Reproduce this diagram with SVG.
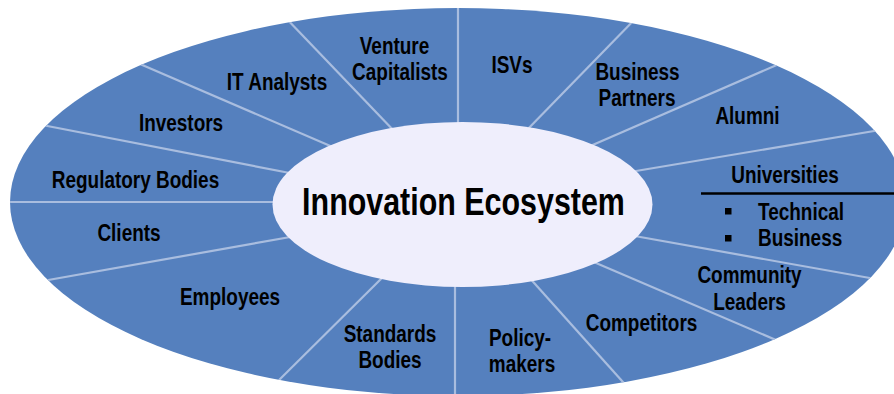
<svg xmlns="http://www.w3.org/2000/svg" width="894" height="394" viewBox="0 0 894 394">
  <style>
    .ring { fill: #5580be; }
    .hub { fill: #efeefc; }
    .div { stroke: #a9bddf; stroke-width: 2.2; fill: none; }
    .lbl { font-family: "Liberation Sans", Arial, sans-serif; font-weight: bold; font-size: 24px; fill: #000; text-anchor: middle; }
    .lft { text-anchor: start; }
    .title { font-size: 38.5px; }
    .bullet { fill: #000; }
  </style>
  <defs>
    <clipPath id="ringClip">
      <ellipse cx="458" cy="202" rx="448" ry="194"/>
    </clipPath>
  </defs>

  <!-- outer ring -->
  <ellipse class="ring" cx="458" cy="202" rx="448" ry="194"/>

  <!-- sector dividers -->
  <g id="connectors" clip-path="url(#ringClip)">
    <line class="div" x1="458" y1="130" x2="458" y2="0"/>
    <line class="div" x1="524" y1="133" x2="639" y2="15"/>
    <line class="div" x1="588" y1="147" x2="786" y2="61"/>
    <line class="div" x1="630" y1="172" x2="886" y2="129"/>
    <line class="div" x1="629" y1="235" x2="881" y2="280"/>
    <line class="div" x1="589" y1="260" x2="783" y2="343"/>
    <line class="div" x1="527" y1="275" x2="631" y2="391"/>
    <line class="div" x1="455" y1="280" x2="455" y2="400"/>
    <line class="div" x1="387" y1="273" x2="271" y2="388"/>
    <line class="div" x1="296" y1="236" x2="37" y2="282"/>
    <line class="div" x1="285" y1="202" x2="0" y2="202"/>
    <line class="div" x1="295" y1="174" x2="37" y2="124"/>
    <line class="div" x1="335" y1="148" x2="133" y2="61"/>
    <line class="div" x1="396" y1="133" x2="283" y2="15"/>
  </g>

  <!-- central hub -->
  <g id="hub">
    <ellipse class="hub" cx="462.5" cy="204.5" rx="190" ry="82.5"/>
    <text class="lbl title" transform="translate(463.5,215) scale(0.79,1)">Innovation Ecosystem</text>
  </g>

  <!-- sector labels -->
  <g id="venture-capitalists">
    <text class="lbl" transform="translate(394.5,54) scale(0.79,1)">Venture</text>
    <text class="lbl" transform="translate(400,80) scale(0.79,1)">Capitalists</text>
  </g>
  <g id="isvs">
    <text class="lbl" transform="translate(512,72.5) scale(0.79,1)">ISVs</text>
  </g>
  <g id="business-partners">
    <text class="lbl" transform="translate(637.5,79.5) scale(0.79,1)">Business</text>
    <text class="lbl" transform="translate(637,106) scale(0.79,1)">Partners</text>
  </g>
  <g id="alumni">
    <text class="lbl" transform="translate(747.5,124) scale(0.79,1)">Alumni</text>
  </g>
  <g id="universities">
    <text class="lbl" transform="translate(785,182.5) scale(0.79,1)">Universities</text>
    <line x1="701" y1="193.5" x2="894" y2="193.5" stroke="#000" stroke-width="2.5"/>
    <rect class="bullet" x="725" y="208" width="6.5" height="6.5"/>
    <text class="lbl lft" transform="translate(758,219.5) scale(0.79,1)">Technical</text>
    <rect class="bullet" x="725" y="235" width="6.5" height="6.5"/>
    <text class="lbl lft" transform="translate(758,246.3) scale(0.79,1)">Business</text>
  </g>
  <g id="community-leaders">
    <text class="lbl" transform="translate(749.5,283) scale(0.79,1)">Community</text>
    <text class="lbl" transform="translate(749.5,310) scale(0.79,1)">Leaders</text>
  </g>
  <g id="competitors">
    <text class="lbl" transform="translate(641.5,331) scale(0.79,1)">Competitors</text>
  </g>
  <g id="policy-makers">
    <text class="lbl" transform="translate(520,345.7) scale(0.79,1)">Policy-</text>
    <text class="lbl" transform="translate(522,371.7) scale(0.79,1)">makers</text>
  </g>
  <g id="standards-bodies">
    <text class="lbl" transform="translate(390,341.7) scale(0.79,1)">Standards</text>
    <text class="lbl" transform="translate(390,368) scale(0.79,1)">Bodies</text>
  </g>
  <g id="employees">
    <text class="lbl" transform="translate(230,305) scale(0.79,1)">Employees</text>
  </g>
  <g id="clients">
    <text class="lbl" transform="translate(129,240.5) scale(0.79,1)">Clients</text>
  </g>
  <g id="regulatory-bodies">
    <text class="lbl" transform="translate(135.5,188) scale(0.79,1)">Regulatory Bodies</text>
  </g>
  <g id="investors">
    <text class="lbl" transform="translate(181,131) scale(0.79,1)">Investors</text>
  </g>
  <g id="it-analysts">
    <text class="lbl" transform="translate(277,90) scale(0.79,1)">IT Analysts</text>
  </g>
</svg>
